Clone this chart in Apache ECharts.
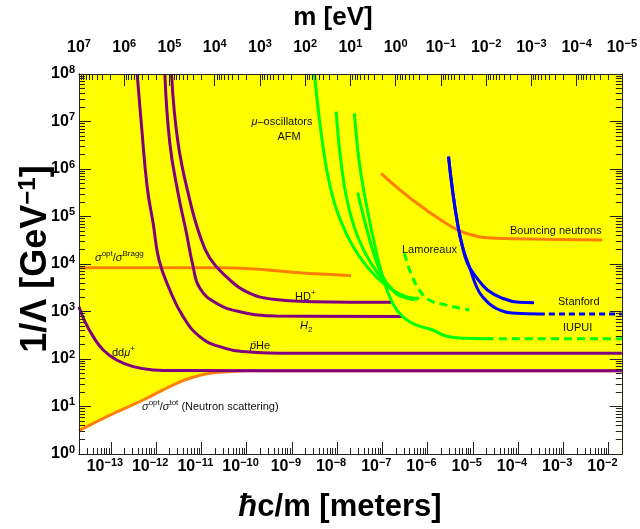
<!DOCTYPE html>
<html><head><meta charset="utf-8">
<script src="https://cdn.jsdelivr.net/npm/echarts@6/dist/echarts.min.js"></script>
<style>html,body{margin:0;padding:0;background:#fff}#c{width:640px;height:529px}</style>
</head><body><div id="c"></div>
<script>
// hbar*c in eV*m, links the two horizontal axes
const HBARC = 1.97327e-7;
const X_MIN = HBARC / 1e7, X_MAX = HBARC / 1e-5;

// tick labels
const bottomTicks = [1e-13,1e-12,1e-11,1e-10,1e-9,1e-8,1e-7,1e-6,1e-5,1e-4,1e-3,1e-2];
const topTicks = [1e7,1e6,1e5,1e4,1e3,1e2,1e1,1e0,1e-1,1e-2,1e-3,1e-4,1e-5];
const yTicks = [1e0,1e1,1e2,1e3,1e4,1e5,1e6,1e7,1e8];

// series: [hbar c / m (meters), 1/Lambda (GeV^-1)]
const neutronScattering = [[1.97e-14,3.1],[9.5e-14,6.6],[5.16e-13,13.7],[2.82e-12,30.8],[6.56e-12,41.2],[1.53e-11,50],[3.57e-11,54],[1.17e-10,56.5],[1.97e-2,56.5]];
const neutronBragg = [[1.97e-14,8360],[9.2e-12,8360],[3.57e-11,8300],[1.94e-10,7730],[1.05e-9,6690],[2.04e-8,5670]];
const ddMu = [[1.97e-14,1260],[2.67e-14,610],[4.07e-14,295],[6.78e-14,155],[1.34e-13,95],[3.11e-13,69],[8.6e-13,59],[2.82e-12,57],[1.97e-2,56.5]];
const pbarHe = [[3.81e-13,1e8],[4.77e-13,7.78e6],[6.33e-13,4.24e5],[8.6e-13,7.19e4],[1.16e-12,1.21e4],[2.01e-12,2840],[3.95e-12,778],[9.2e-12,295],[2.55e-11,182],[9.9e-11,142],[1.05e-9,132],[1.97e-2,132]];
const h2 = [[1.56e-12,1e8],[2.01e-12,3.48e6],[3.06e-12,3.08e5],[4.69e-12,4.43e4],[6.46e-12,9530],[9.2e-12,3120],[2.15e-11,1490],[7.03e-11,990],[4.53e-10,804],[2.77e-7,785]];
const hdPlus = [[2.19e-12,1e8],[3.06e-12,3.48e6],[5.55e-12,2.22e5],[9.2e-12,4.08e4],[1.53e-11,1.34e4],[3.57e-11,5400],[9.86e-11,2610],[3.81e-10,1810],[2.91e-9,1610],[1.66e-7,1560]];
const afmA = [[3.17e-9,1e8],[4.09e-9,1.08e7],[5.74e-9,1.12e6],[8.75e-9,1.9e5],[1.59e-8,4.43e4],[3.12e-8,1.43e4],[7.28e-8,5400],[1.69e-7,2840],[3.34e-7,2050],[6.03e-7,1810]];
const afmB = [[9.55e-9,1.61e7],[1.23e-8,1.32e6],[1.72e-8,1.9e5],[2.86e-8,3.76e4],[5.65e-8,1.03e4],[1.21e-7,3920],[2.38e-7,2220],[5.1e-7,1750]];
const afmC = [[2.86e-8,3.17e5],[4.02e-8,8.44e4],[6.12e-8,1.97e4],[9.4e-8,6370],[1.56e-7,3080],[2.81e-7,2050],[6.56e-7,1900]];
const iupui = [[2.42e-8,1.49e7],[3.12e-8,1.32e6],[4.39e-8,1.9e5],[6.68e-8,2.73e4],[1.02e-7,5400],[1.69e-7,1490],[2.81e-7,778],[5.55e-7,520],[1.29e-6,408],[2.55e-6,305],[7.05e-6,273],[1.95e-5,268]];
const iupuiProj = [[1.95e-5,268],[1.97e-2,268]];
const lamoreaux = [[3.07e-7,1.68e4],[4.31e-7,6370],[6.56e-7,2840],[1.09e-6,1750],[2.55e-6,1370],[8.34e-6,1080]];
const bouncing = [[9.4e-8,8.11e5],[4.68e-7,2.22e5],[2.55e-6,7.19e4],[7.05e-6,4.43e4],[3.24e-5,3.48e4],[4.1e-4,3.31e4],[7.28e-3,3.2e4]];
const stanfordA = [[2.91e-6,1.82e6],[3.56e-6,3.61e5],[4.6e-6,7.19e4],[5.92e-6,2.31e4],[7.64e-6,1.03e4],[1.17e-5,5400],[2.11e-5,2840],[4.52e-5,1900],[1.05e-4,1560],[2.26e-4,1530]];
const stanfordB = [[2.91e-6,1.82e6],[3.56e-6,3.61e5],[4.6e-6,7.19e4],[5.92e-6,2.31e4],[8.9e-6,7480],[1.17e-5,3610],[1.64e-5,2050],[3.24e-5,1170],[8.93e-5,916],[2.91e-4,886]];
const stanfordProj = [[2.91e-4,886],[1.97e-2,886]];

const FF = "'Liberation Sans', Arial, Helvetica, sans-serif";
const PURPLE = '#800080', ORANGE = '#ff8000', GREEN = '#00ff00', BLUE = '#0000ff';

function minorTicks(lo, hi) {
  const out = [];
  for (let n = Math.floor(Math.log10(lo)); n <= Math.ceil(Math.log10(hi)); n++)
    for (let k = 2; k <= 9; k++) { const v = k * Math.pow(10, n); if (v > lo && v < hi) out.push(v); }
  return out;
}
function powLabel(v) {
  const e = Math.round(Math.log10(v));
  return '{b|10}{e|' + (e < 0 ? '\u2212' + (-e) : '' + e) + '}';
}
const tickRich = {
  b: {fontFamily: FF, fontSize: 16, fontWeight: 'bold', color: '#000', lineHeight: 20},
  e: {fontFamily: FF, fontSize: 11, fontWeight: 'bold', color: '#000', lineHeight: 11, verticalAlign: 'top'}
};
function axis(pos, lo, hi, ticks, len, labels, extra) {
  const a = {
    type: 'log', position: pos, min: lo, max: hi, z: 10,
    axisLine: {show: true, onZero: false, lineStyle: {color: '#222', width: 1}},
    axisTick: {show: true, inside: true, length: len, customValues: ticks, lineStyle: {color: '#222', width: 1}},
    axisLabel: labels ? Object.assign({show: true, customValues: ticks, formatter: powLabel, rich: tickRich, hideOverlap: false}, labels) : {show: false},
    splitLine: {show: false}, minorTick: {show: false}
  };
  return Object.assign(a, extra || {});
}

function line(data, color, dash) {
  return {type: 'line', data: data, xAxisIndex: 0, yAxisIndex: 0, symbol: 'none', showSymbol: false,
    smooth: 0.45, silent: true, z: 3,
    lineStyle: {color: color, width: 3, type: dash || 'solid'}};
}

const chart = echarts.init(document.getElementById('c'), null, {renderer: 'canvas'});

const annRich = {
  n: {fontFamily: FF, fontSize: 11, lineHeight: 16, fill: '#111'},
  i: {fontFamily: FF, fontSize: 11, fontStyle: 'italic', lineHeight: 16, fill: '#111'},
  sup: {fontFamily: FF, fontSize: 8, lineHeight: 8, verticalAlign: 'top', fill: '#111'},
  sub: {fontFamily: FF, fontSize: 8, lineHeight: 8, verticalAlign: 'bottom', fill: '#111'}
};
function ann(text, x, y, align) {
  return {type: 'text', x: x, y: y, z: 20, silent: true,
    style: {text: text, rich: annRich, align: align || 'left', verticalAlign: 'middle', font: '11px ' + FF, fill: '#111'}};
}
function titleRich(sz) {
  return {
    t: {fontFamily: FF, fontSize: sz, fontWeight: 'bold', lineHeight: sz + 4, fill: '#000'},
    it: {fontFamily: FF, fontSize: sz, fontWeight: 'bold', fontStyle: 'italic', lineHeight: sz + 4, fill: '#000'},
    s: {fontFamily: FF, fontSize: Math.round(sz * 0.66), fontWeight: 'bold', lineHeight: Math.round(sz * 0.66), verticalAlign: 'top', fill: '#000'}
  };
}
function title(text, x, y, sz, rot) {
  return {type: 'text', x: x, y: y, rotation: rot || 0, z: 20, silent: true,
    style: {text: text, rich: titleRich(sz), align: 'center', verticalAlign: 'middle', font: 'bold ' + sz + 'px ' + FF}};
}

chart.setOption({
  animation: false,
  backgroundColor: '#fff',
  grid: {left: 79, right: 17, top: 74, bottom: 75, show: true, backgroundColor: '#ffff00', borderWidth: 0},
  xAxis: [
    axis('bottom', X_MIN, X_MAX, bottomTicks, 12, {margin: 3, padding: [0, 12, 0, 0]}),
    axis('bottom', X_MIN, X_MAX, minorTicks(X_MIN, X_MAX), 6, null),
    axis('top', 1e-5, 1e7, topTicks, 12, {margin: 16}, {inverse: true}),
    axis('top', 1e-5, 1e7, minorTicks(1e-5, 1e7), 6, null, {inverse: true})
  ],
  yAxis: [
    axis('left', 1, 1e8, yTicks, 12, {margin: 4}),
    axis('left', 1, 1e8, minorTicks(1, 1e8), 6, null),
    axis('right', 1, 1e8, yTicks, 12, null),
    axis('right', 1, 1e8, minorTicks(1, 1e8), 6, null)
  ],
  series: [
    Object.assign(line(neutronScattering, ORANGE), {areaStyle: {color: '#ffffff', opacity: 1, origin: 'start'}, z: 2}),
    line(neutronBragg, ORANGE),
    line(bouncing, ORANGE),
    line(ddMu, PURPLE),
    line(pbarHe, PURPLE),
    line(h2, PURPLE),
    line(hdPlus, PURPLE),
    line(afmA, GREEN),
    line(afmB, GREEN),
    line(afmC, GREEN),
    line(iupui, GREEN),
    line(iupuiProj, GREEN, [8, 5]),
    line(lamoreaux, GREEN, [8, 5]),
    line(stanfordA, BLUE),
    line(stanfordB, BLUE),
    line(stanfordProj, BLUE, [6, 4])
  ],
  graphic: [
    title('{t|m [eV]}', 333, 18, 26),
    title('{it|\u0127}{t|c/m [meters]}', 340, 507, 31),
    title('{t|1/\u039b [GeV}{s|\u22121}{t|]}', 36, 259, 36, Math.PI / 2),
    ann('{i|\u03bc}{n|\u2013oscillators}', 282, 122, 'center'),
    ann('{n|AFM}', 289, 137, 'center'),
    ann('{n|Lamoreaux}', 402, 250),
    ann('{n|Bouncing neutrons}', 510, 231),
    ann('{n|Stanford}', 558, 302),
    ann('{n|IUPUI}', 563, 328),
    ann('{n|HD}{sup|+}', 295, 297),
    ann('{i|H}{sub|2}', 300, 326),
    ann('{i|p\u0304}{n|He}', 250, 346),
    ann('{n|dd}{i|\u03bc}{sup|+}', 112, 353),
    ann('{i|\u03c3}{sup|opt}{n|/}{i|\u03c3}{sup|tot}{n| (Neutron scattering)}', 142, 407),
    ann('{i|\u03c3}{sup|opt}{n|/}{i|\u03c3}{sup|Bragg}', 95, 258)
  ]
});
</script></body></html>
